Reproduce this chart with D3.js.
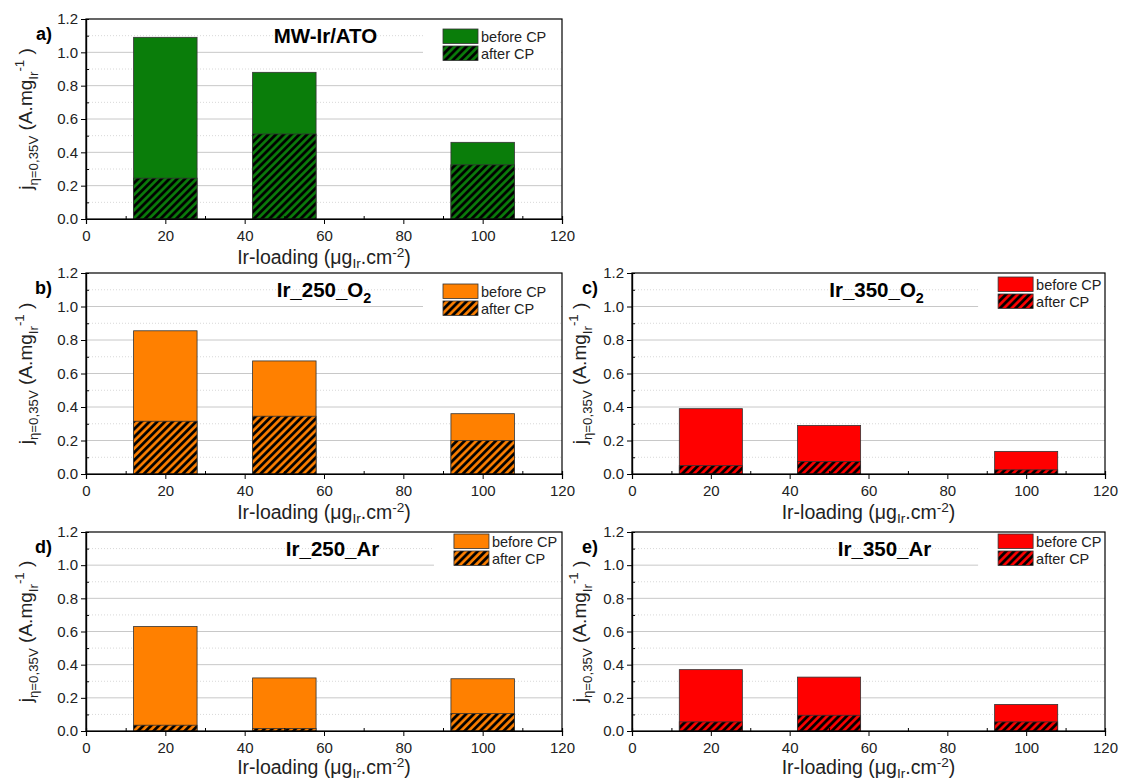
<!DOCTYPE html>
<html>
<head>
<meta charset="utf-8">
<script src="https://cdn.jsdelivr.net/npm/d3@7"></script>
<style>
  body { margin: 0; background: #fff; }
  svg { font-family: "Liberation Sans", Arial, sans-serif; }
</style>
</head>
<body>
<svg width="1121" height="783"></svg>
<script>
// ---- data ----
const loadings = [20, 50, 100];          // µg_Ir.cm-2, bar centres
const barSpan = 16;                       // bar width in x units (12..28 etc.)

const mwBefore = [1.09, 0.88, 0.46];
const mwAfter = [0.245, 0.51, 0.325];
const ir250O2Before = [0.855, 0.675, 0.36];
const ir250O2After = [0.315, 0.345, 0.20];
const ir350O2Before = [0.39, 0.29, 0.135];
const ir350O2After = [0.05, 0.075, 0.025];
const ir250ArBefore = [0.63, 0.32, 0.315];
const ir250ArAfter = [0.035, 0.015, 0.105];
const ir350ArBefore = [0.37, 0.325, 0.16];
const ir350ArAfter = [0.055, 0.095, 0.055];

const panelLetters = ['a)', 'b)', 'c)', 'd)', 'e)'];
const panelTitles = [
  [['MW-Ir/ATO']],
  [['Ir_250_O'], ['2', 'sub']],
  [['Ir_350_O'], ['2', 'sub']],
  [['Ir_250_Ar']],
  [['Ir_350_Ar']]
];
const legendLabels = ['before CP', 'after CP'];
const xTicks = [0, 20, 40, 60, 80, 100, 120];
const xMinorTicks = [10, 30, 50, 70, 90, 110];
const yTicks = [0, 0.2, 0.4, 0.6, 0.8, 1.0, 1.2];
const yMinorTicks = [0.1, 0.3, 0.5, 0.7, 0.9, 1.1];
const yLabelParts = [['j'], ['η=0,35V', 'sub'], [' (A.mg'], ['Ir', 'sub'], ['-1', 'sup'], [' )']];
const xLabelParts = [['Ir-loading (μg'], ['Ir', 'sub'], ['.cm'], ['-2', 'sup'], [')']];

// ---- layout ----
const svg = d3.select('svg');
const colours = {green: '#0a7d0a', orange: '#ff8000', red: '#ff0000'};

const panels = [
  {before: mwBefore, after: mwAfter, colour: 'green', x: 86, y: 19, w: 476, h: 200, yLab: 54, xLab: 45, titleAt: 0.503, legAt: 0.75, legTop: 10},
  {before: ir250O2Before, after: ir250O2After, colour: 'orange', x: 86, y: 273, w: 476, h: 201, yLab: 54, xLab: 45, titleAt: 0.5, legAt: 0.75, legTop: 11},
  {before: ir350O2Before, after: ir350O2After, colour: 'red', x: 632, y: 273, w: 473, h: 201, yLab: 46, xLab: 45, titleAt: 0.517, legAt: 0.774, legTop: 4},
  {before: ir250ArBefore, after: ir250ArAfter, colour: 'orange', x: 86, y: 532, w: 476, h: 199, yLab: 54, xLab: 43, titleAt: 0.518, legAt: 0.773, legTop: 2},
  {before: ir350ArBefore, after: ir350ArAfter, colour: 'red', x: 632, y: 532, w: 473, h: 199, yLab: 46, xLab: 43, titleAt: 0.534, legAt: 0.774, legTop: 2}
];

// hatch patterns, one per colour
const defs = svg.append('defs');
Object.keys(colours).forEach(k => {
  const p = defs.append('pattern')
    .attr('id', 'hatch-' + k)
    .attr('patternUnits', 'userSpaceOnUse')
    .attr('width', 5.5).attr('height', 5.5)
    .attr('patternTransform', 'rotate(45)');
  p.append('rect').attr('width', 5.5).attr('height', 5.5).attr('fill', colours[k]);
  p.append('line').attr('x1', 1.5).attr('y1', 0).attr('x2', 1.5).attr('y2', 5.5)
    .attr('stroke', '#000').attr('stroke-width', 2.8);
});

// text with sub/superscripts
function richText(sel, parts, size, subDrop = 0.3, supLift = 0.42) {
  let cur = 0;
  parts.forEach(([t, mode]) => {
    const target = mode === 'sub' ? size * subDrop : mode === 'sup' ? -size * supLift : 0;
    sel.append('tspan')
      .attr('dy', target - cur)
      .attr('font-size', mode ? size * 0.7 : size)
      .text(t);
    cur = target;
  });
}

panels.forEach((cfg, i) => {
  const g = svg.append('g').attr('transform', `translate(${cfg.x},${cfg.y})`);
  const x = d3.scaleLinear().domain([0, 120]).range([0, cfg.w]);
  const y = d3.scaleLinear().domain([0, 1.2]).range([cfg.h, 0]);

  // gridlines
  g.append('g').selectAll('line').data(yMinorTicks).join('line')
    .attr('x1', 0).attr('x2', cfg.w)
    .attr('y1', d => y(d)).attr('y2', d => y(d))
    .attr('stroke', '#d8d8d8').attr('stroke-dasharray', '1,2');
  g.append('g').selectAll('line').data(yTicks.slice(1, -1)).join('line')
    .attr('x1', 0).attr('x2', cfg.w)
    .attr('y1', d => y(d)).attr('y2', d => y(d))
    .attr('stroke', '#c8c8c8');

  // bars: before CP full, after CP hatched on top
  g.append('g').selectAll('rect').data(cfg.before).join('rect')
    .attr('x', (d, j) => x(loadings[j] - barSpan / 2))
    .attr('width', x(barSpan) - x(0))
    .attr('y', d => y(d))
    .attr('height', d => y(0) - y(d))
    .attr('fill', colours[cfg.colour])
    .attr('stroke', '#333').attr('stroke-width', 0.8);
  g.append('g').selectAll('rect').data(cfg.after).join('rect')
    .attr('x', (d, j) => x(loadings[j] - barSpan / 2))
    .attr('width', x(barSpan) - x(0))
    .attr('y', d => y(d))
    .attr('height', d => y(0) - y(d))
    .attr('fill', `url(#hatch-${cfg.colour})`)
    .attr('stroke', '#333').attr('stroke-width', 0.8);

  // frame
  g.append('rect').attr('width', cfg.w).attr('height', cfg.h)
    .attr('fill', 'none').attr('stroke', '#000').attr('stroke-width', 1.2);

  // axes
  const xAxis = g.append('g').attr('transform', `translate(0,${cfg.h})`)
    .call(d3.axisBottom(x).tickValues(xTicks).tickSize(5).tickPadding(3).tickFormat(d3.format('d')));
  g.append('g').attr('transform', `translate(0,${cfg.h})`)
    .call(d3.axisBottom(x).tickValues(xMinorTicks).tickSize(-3).tickFormat(''));
  g.append('g')
    .call(d3.axisLeft(y).tickValues(yTicks).tickSize(5).tickPadding(3).tickFormat(d3.format('.1f')));
  g.append('g')
    .call(d3.axisLeft(y).tickValues(yMinorTicks).tickSize(-3).tickFormat(''));
  g.selectAll('.domain').attr('stroke', '#000').attr('stroke-width', 1.2);
  g.selectAll('.tick line').attr('stroke', '#000');
  g.selectAll('.tick text').attr('font-size', 15).attr('fill', '#222')
    .attr('font-family', '"Liberation Sans", Arial, sans-serif');
  xAxis.selectAll('.tick text').attr('dy', '0.9em');

  // panel letter
  g.append('text').attr('x', -34).attr('y', 21)
    .attr('text-anchor', 'end').attr('font-weight', 'bold').attr('font-size', 18)
    .text(panelLetters[i]);

  // title
  const title = g.append('text').attr('x', cfg.w * cfg.titleAt).attr('y', 24)
    .attr('text-anchor', 'middle').attr('font-weight', 'bold');
  richText(title, panelTitles[i], 20.5);

  // legend
  const lx = cfg.w * cfg.legAt, ly = cfg.legTop;
  g.append('rect').attr('x', lx - 20).attr('y', Math.max(ly - 2, 1))
    .attr('width', cfg.w - lx + 19).attr('height', 35)
    .attr('fill', '#fff');
  const leg = g.append('g').attr('transform', `translate(${lx},${ly})`);
  legendLabels.forEach((lab, k) => {
    leg.append('rect').attr('x', 0).attr('y', k * 17).attr('width', 35).attr('height', 14.5)
      .attr('fill', k === 0 ? colours[cfg.colour] : `url(#hatch-${cfg.colour})`)
      .attr('stroke', '#333').attr('stroke-width', 0.8);
    leg.append('text').attr('x', 38).attr('y', k * 17 + 12.5)
      .attr('font-size', 14.5).attr('fill', '#222').text(lab);
  });

  // axis titles
  const xl = g.append('text').attr('x', cfg.w / 2).attr('y', cfg.h + cfg.xLab)
    .attr('text-anchor', 'middle').attr('fill', '#222');
  richText(xl, xLabelParts, 19.5, 0.22, 0.36);
  const yl = g.append('text')
    .attr('transform', `translate(${-cfg.yLab},${cfg.h / 2}) rotate(-90)`)
    .attr('text-anchor', 'middle').attr('fill', '#222');
  richText(yl, yLabelParts, 19);
});
</script>
</body>
</html>
